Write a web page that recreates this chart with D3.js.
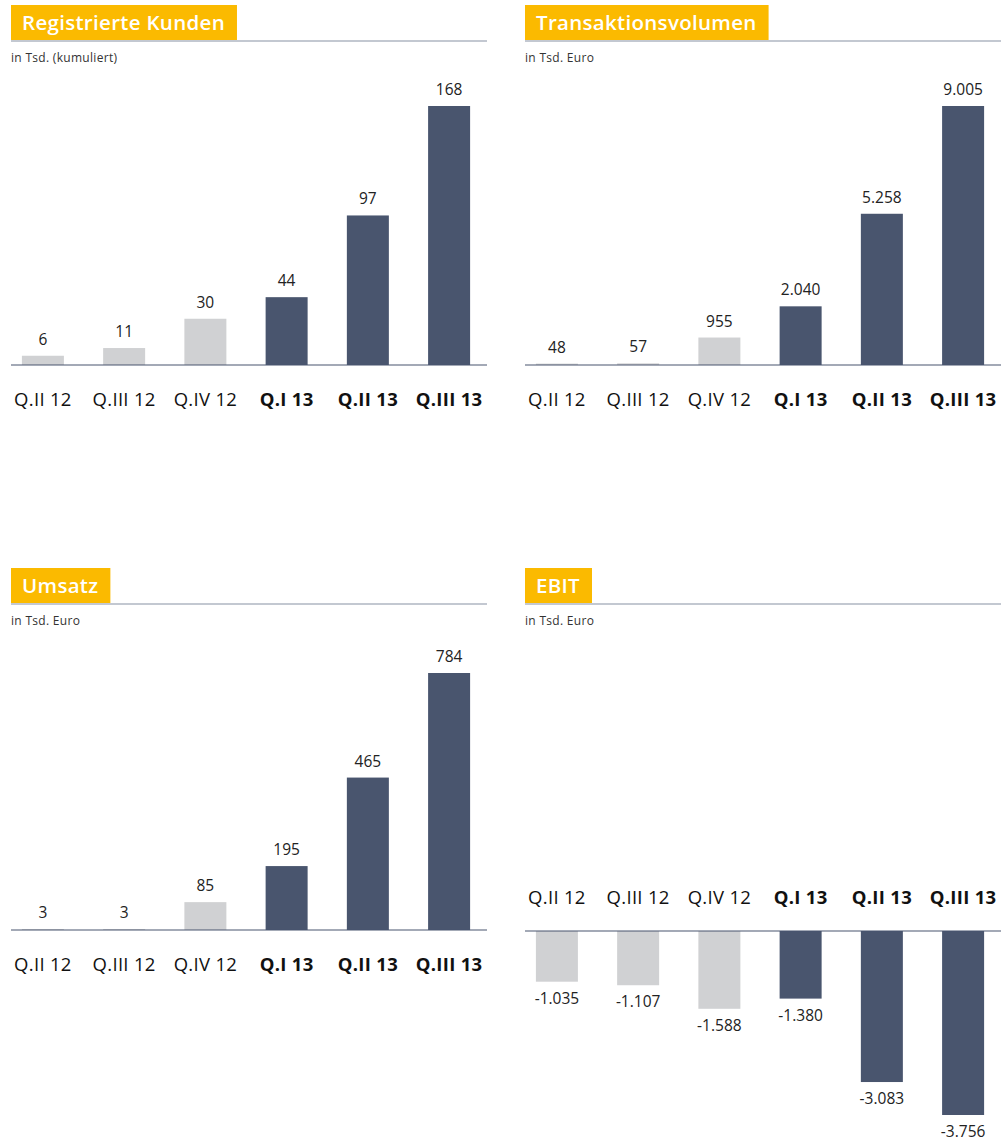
<!DOCTYPE html>
<html>
<head>
<meta charset="utf-8">
<script src="https://cdn.jsdelivr.net/npm/d3@7"></script>
<style>
  html, body { margin: 0; padding: 0; background: #fff; }
  svg { display: block; font-family: "Open Sans", Lato, sans-serif; }
</style>
</head>
<body>
<svg id="chart" width="1001" height="1144"></svg>
<script>
// Quarterly key figures
const quarters = ["Q.II 12", "Q.III 12", "Q.IV 12", "Q.I 13", "Q.II 13", "Q.III 13"];
const currentYear = ["Q.I 13", "Q.II 13", "Q.III 13"];

const kunden = [6, 11, 30, 44, 97, 168];
const volumen = [48, 57, 955, 2040, 5258, 9005];
const umsatz = [3, 3, 85, 195, 465, 784];
const ebit = [-1035, -1107, -1588, -1380, -3083, -3756];

const titles = ["Registrierte Kunden", "Transaktionsvolumen", "Umsatz", "EBIT"];
const units = ["in Tsd. (kumuliert)", "in Tsd. Euro", "in Tsd. Euro", "in Tsd. Euro"];

const de = d3.formatLocale({ decimal: ",", thousands: ".", grouping: [3], currency: ["", " €"], minus: "-" });
const fmt = de.format(",d");

const COL_TITLE = "#FBBA00";
const COL_DARK = "#49556E";
const COL_LIGHT = "#D0D1D3";
const COL_RULE = "#8791a4";

const svg = d3.select("#chart");

function panel(x0, y0, title, unit, values, opts) {
  const g = svg.append("g").attr("transform", `translate(${x0},${y0})`);
  const W = 476;

  // heading box
  const head = g.append("g");
  const ht = head.append("text")
    .attr("x", 11).attr("y", 25)
    .attr("fill", "#fff").attr("font-size", 20.5).attr("font-weight", 600)
    .attr("letter-spacing", 0.3)
    .text(title);
  const tw = ht.node().getComputedTextLength();
  head.insert("rect", "text")
    .attr("x", 0).attr("y", 0).attr("width", tw + 23).attr("height", 35)
    .attr("fill", COL_TITLE);
  g.append("line")
    .attr("x1", 0).attr("x2", W).attr("y1", 36).attr("y2", 36)
    .attr("stroke", COL_RULE).attr("stroke-width", 1.2);

  g.append("text")
    .attr("x", 0).attr("y", 57)
    .attr("fill", "#333").attr("font-size", 12).attr("letter-spacing", 0.3)
    .text(unit);

  const x = d3.scaleBand().domain(quarters)
    .range([-8.6, 478.6]).paddingInner(0.483).paddingOuter(0.24);

  const base = opts.base;
  const neg = opts.negative;
  const ext = neg ? d3.min(values) : d3.max(values);
  const y = d3.scaleLinear().domain([0, ext])
    .range([base, neg ? base + opts.span : base - opts.span]);

  const data = quarters.map((q, i) => ({ q, v: values[i], cur: currentYear.includes(q) }));

  g.selectAll("rect.bar").data(data).join("rect")
    .attr("class", "bar")
    .attr("x", d => x(d.q))
    .attr("width", x.bandwidth())
    .attr("y", d => Math.min(y(d.v), y(0)))
    .attr("height", d => Math.abs(y(d.v) - y(0)))
    .attr("fill", d => d.cur ? COL_DARK : COL_LIGHT);

  // axis line
  g.append("line")
    .attr("x1", 0).attr("x2", W).attr("y1", base).attr("y2", base)
    .attr("stroke", COL_DARK).attr("stroke-width", 1.2);

  // value labels
  g.selectAll("text.val").data(data).join("text")
    .attr("class", "val")
    .attr("x", d => x(d.q) + x.bandwidth() / 2)
    .attr("y", d => neg ? y(d.v) + 22 : y(d.v) - 11)
    .attr("text-anchor", "middle")
    .attr("fill", "#222").attr("font-size", 15.5)
    .text(d => fmt(d.v));

  // category labels
  const axis = d3.axisBottom(x).tickSize(0).tickPadding(0);
  const ag = g.append("g")
    .attr("transform", `translate(0,${neg ? base - 27 : base + 41})`)
    .call(axis);
  ag.select(".domain").remove();
  ag.selectAll(".tick text")
    .attr("dy", 0)
    .attr("font-family", "'Open Sans', Lato, sans-serif")
    .attr("font-size", 18.5)
    .attr("letter-spacing", 0.3)
    .attr("fill", "#111")
    .attr("font-weight", d => currentYear.includes(d) ? 700 : 400);
}

panel(11, 5, titles[0], units[0], kunden, { base: 360, span: 259 });
panel(525, 5, titles[1], units[1], volumen, { base: 360, span: 259 });
panel(11, 568, titles[2], units[2], umsatz, { base: 362, span: 257 });
panel(525, 568, titles[3], units[3], ebit, { base: 363, span: 184, negative: true });
</script>
</body>
</html>
